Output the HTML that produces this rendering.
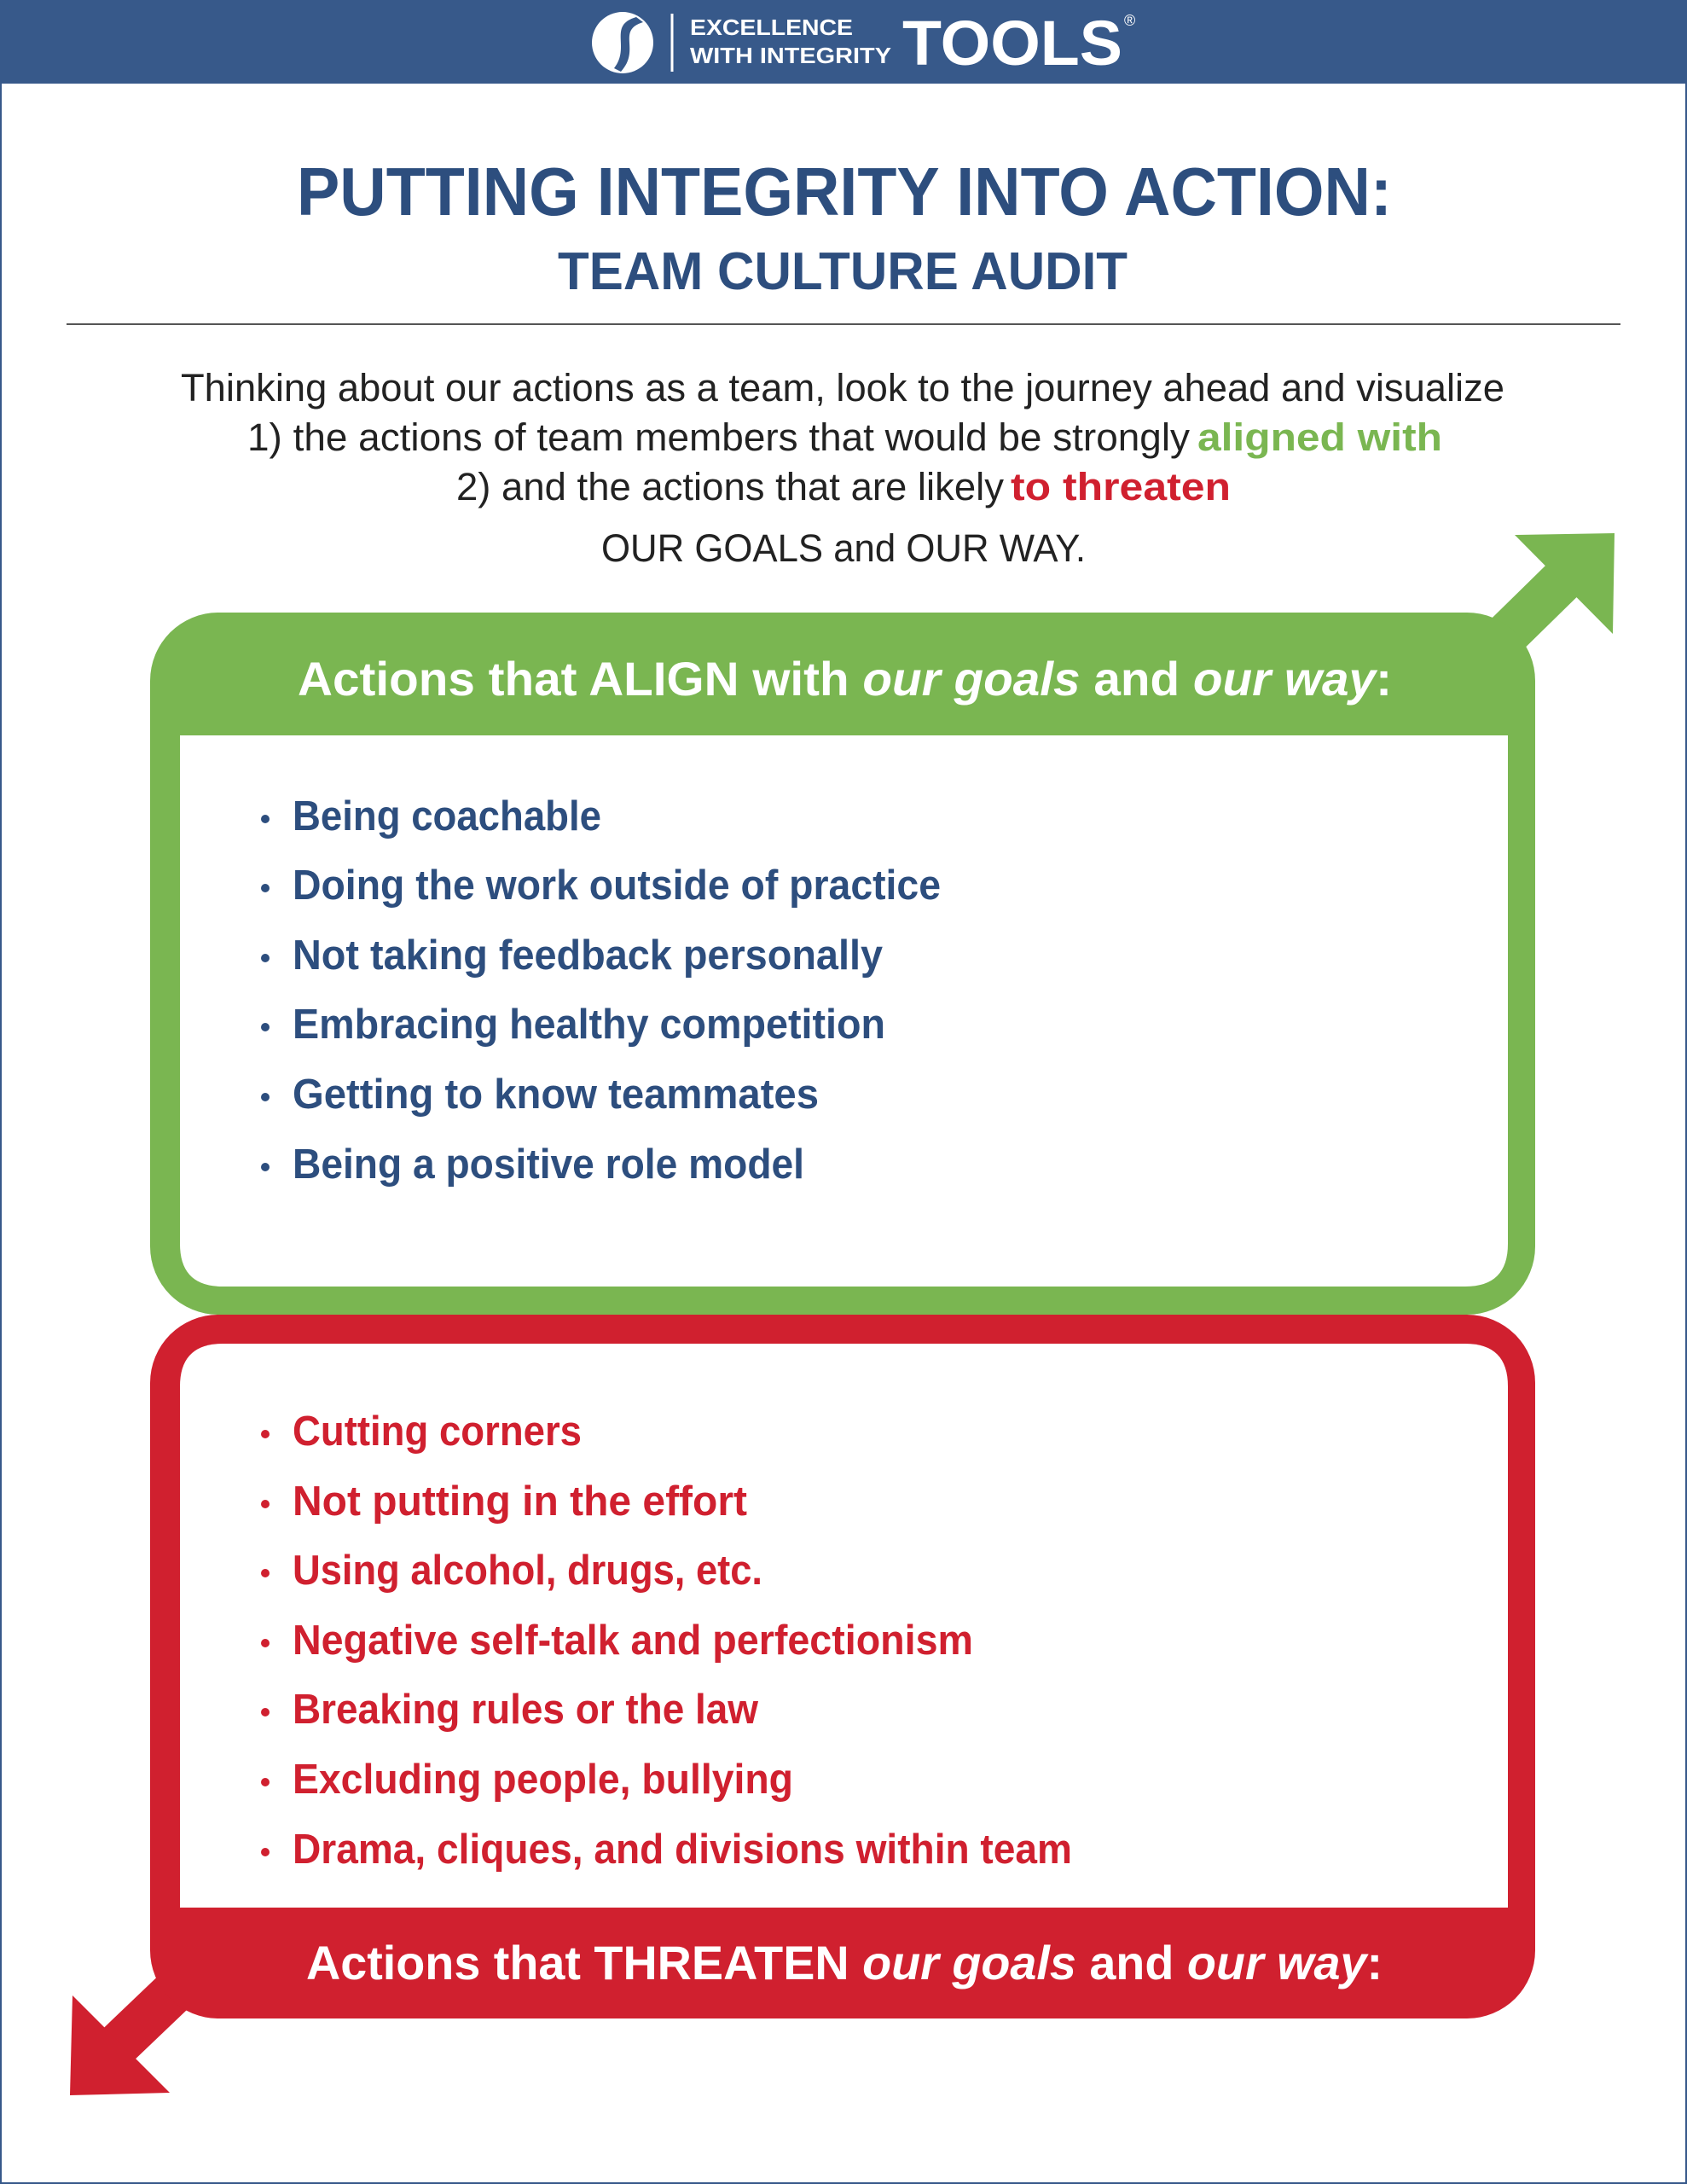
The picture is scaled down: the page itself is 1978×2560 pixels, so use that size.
<!DOCTYPE html>
<html><head><meta charset="utf-8"><style>
html,body{margin:0;padding:0;background:#fff}
svg{display:block}
</style></head><body>
<svg width="1978" height="2560" viewBox="0 0 1978 2560" xmlns="http://www.w3.org/2000/svg" font-family="Liberation Sans, sans-serif">
<rect x="0" y="0" width="1978" height="2560" fill="#fff"/>
<rect x="1" y="1" width="1976" height="2558" fill="none" stroke="#37598a" stroke-width="2"/>
<rect x="0" y="0" width="1978" height="98" fill="#37598a"/>
<!-- logo -->
<circle cx="730" cy="50" r="36" fill="#fff"/>
<path d="M746 20 C 712 30, 740 55, 720 80 L 728 84 C 752 58, 722 36, 754 26 Z" fill="#37598a"/>
<line x1="788" y1="16" x2="788" y2="84" stroke="#fff" stroke-width="3"/>
<text x="809" y="41" font-size="26" font-weight="bold" fill="#fff" textLength="191" lengthAdjust="spacingAndGlyphs">EXCELLENCE</text>
<text x="809" y="74" font-size="26" font-weight="bold" fill="#fff" textLength="236" lengthAdjust="spacingAndGlyphs">WITH INTEGRITY</text>
<text x="1058" y="76" font-size="74" font-weight="bold" fill="#fff" textLength="258" lengthAdjust="spacingAndGlyphs">TOOLS</text>
<text x="1318" y="30" font-size="18" fill="#fff">®</text>
<!-- titles -->
<text x="348" y="252" font-size="80" font-weight="bold" fill="#2d4e7e" textLength="1284" lengthAdjust="spacingAndGlyphs">PUTTING INTEGRITY INTO ACTION:</text>
<text x="654" y="339" font-size="62" font-weight="bold" fill="#2d4e7e" textLength="668" lengthAdjust="spacingAndGlyphs">TEAM CULTURE AUDIT</text>
<line x1="78" y1="380" x2="1900" y2="380" stroke="#555" stroke-width="2"/>
<!-- paragraph -->
<g font-size="45" fill="#222">
<text x="212" y="470" textLength="1552" lengthAdjust="spacingAndGlyphs">Thinking about our actions as a team, look to the journey ahead and visualize</text>
<text x="290" y="528" textLength="1105" lengthAdjust="spacingAndGlyphs">1) the actions of team members that would be strongly</text>
<text x="1404" y="528" textLength="287" lengthAdjust="spacingAndGlyphs" fill="#7ab651" font-weight="bold">aligned with</text>
<text x="535" y="586" textLength="642" lengthAdjust="spacingAndGlyphs">2) and the actions that are likely</text>
<text x="1185" y="586" textLength="258" lengthAdjust="spacingAndGlyphs" fill="#d0202f" font-weight="bold">to threaten</text>
<text x="705" y="658" textLength="568" lengthAdjust="spacingAndGlyphs">OUR GOALS and OUR WAY.</text>
</g>
<!-- green arrow -->
<line x1="1740" y1="770" x2="1840" y2="672" stroke="#7ab651" stroke-width="52"/>
<polygon points="1776,627 1893,625 1891,743" fill="#7ab651"/>
<!-- green box -->
<rect x="176" y="718" width="1624" height="823" rx="80" fill="#7ab651"/>
<path d="M211 862 H1768 V1458 Q1768 1508 1718 1508 H261 Q211 1508 211 1458 Z" fill="#fff"/>
<text x="349" y="815" font-size="56" font-weight="bold" fill="#fff" textLength="1283" lengthAdjust="spacingAndGlyphs">Actions that ALIGN with <tspan font-style="italic">our goals</tspan> and <tspan font-style="italic">our way</tspan>:</text>
<g font-size="49" font-weight="bold" fill="#2d4e7e">
<circle cx="311" cy="960" r="5"/><text x="343" y="973" textLength="362" lengthAdjust="spacingAndGlyphs">Being coachable</text>
<circle cx="311" cy="1041" r="5"/><text x="343" y="1054" textLength="760" lengthAdjust="spacingAndGlyphs">Doing the work outside of practice</text>
<circle cx="311" cy="1123" r="5"/><text x="343" y="1136" textLength="692" lengthAdjust="spacingAndGlyphs">Not taking feedback personally</text>
<circle cx="311" cy="1204" r="5"/><text x="343" y="1217" textLength="695" lengthAdjust="spacingAndGlyphs">Embracing healthy competition</text>
<circle cx="311" cy="1286" r="5"/><text x="343" y="1299" textLength="617" lengthAdjust="spacingAndGlyphs">Getting to know teammates</text>
<circle cx="311" cy="1368" r="5"/><text x="343" y="1381" textLength="600" lengthAdjust="spacingAndGlyphs">Being a positive role model</text>
</g>
<!-- red arrow -->
<line x1="240" y1="2300" x2="130" y2="2405" stroke="#d0202f" stroke-width="52"/>
<polygon points="85,2339 82,2456 199,2453" fill="#d0202f"/>
<!-- red box -->
<rect x="176" y="1541" width="1624" height="825" rx="80" fill="#d0202f"/>
<path d="M261 1575 H1718 Q1768 1575 1768 1625 V2236 H211 V1625 Q211 1575 261 1575 Z" fill="#fff"/>
<g font-size="49" font-weight="bold" fill="#d0202f">
<circle cx="311" cy="1681" r="5"/><text x="343" y="1694" textLength="339" lengthAdjust="spacingAndGlyphs">Cutting corners</text>
<circle cx="311" cy="1763" r="5"/><text x="343" y="1776" textLength="533" lengthAdjust="spacingAndGlyphs">Not putting in the effort</text>
<circle cx="311" cy="1844" r="5"/><text x="343" y="1857" textLength="551" lengthAdjust="spacingAndGlyphs">Using alcohol, drugs, etc.</text>
<circle cx="311" cy="1926" r="5"/><text x="343" y="1939" textLength="798" lengthAdjust="spacingAndGlyphs">Negative self-talk and perfectionism</text>
<circle cx="311" cy="2007" r="5"/><text x="343" y="2020" textLength="546" lengthAdjust="spacingAndGlyphs">Breaking rules or the law</text>
<circle cx="311" cy="2089" r="5"/><text x="343" y="2102" textLength="587" lengthAdjust="spacingAndGlyphs">Excluding people, bullying</text>
<circle cx="311" cy="2171" r="5"/><text x="343" y="2184" textLength="914" lengthAdjust="spacingAndGlyphs">Drama, cliques, and divisions within team</text>
</g>
<text x="359" y="2320" font-size="56" font-weight="bold" fill="#fff" textLength="1262" lengthAdjust="spacingAndGlyphs">Actions that THREATEN <tspan font-style="italic">our goals</tspan> and <tspan font-style="italic">our way</tspan>:</text>
</svg>
</body></html>
